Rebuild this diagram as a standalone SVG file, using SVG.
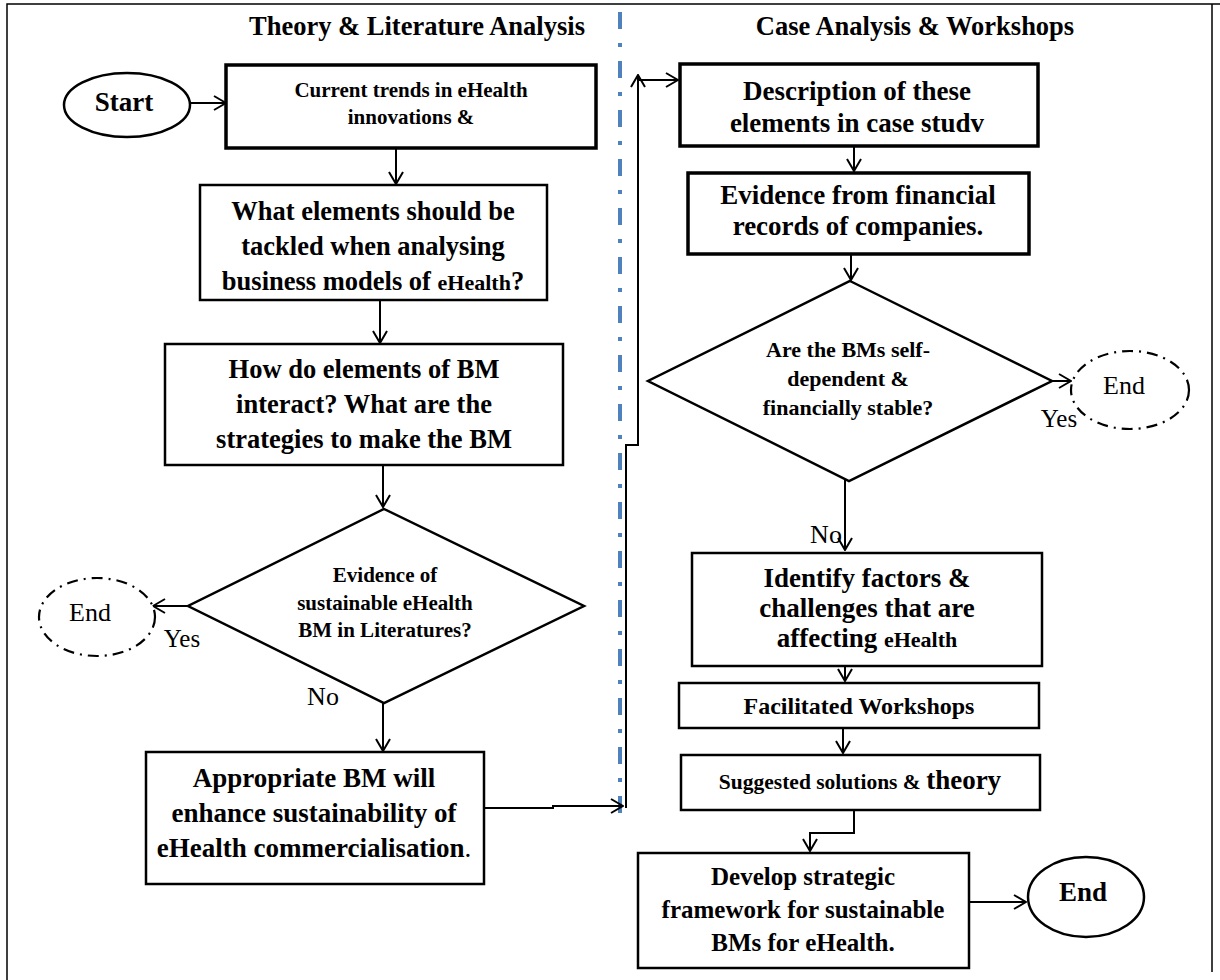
<svg xmlns="http://www.w3.org/2000/svg" width="1220" height="980" viewBox="0 0 1220 980">
<defs>
<marker id="arr" markerUnits="userSpaceOnUse" viewBox="0 0 14 16" markerWidth="14" markerHeight="16" refX="13" refY="8" orient="auto">
<path d="M1,1 L13,8 L1,15" fill="none" stroke="#000" stroke-width="2"/>
</marker>
</defs>
<style>
text{font-family:"Liberation Serif","Times New Roman",serif;fill:#000;text-anchor:middle}
.b{font-weight:bold}
.box{fill:#fff;stroke:#000;stroke-width:2.5}
.tbox{fill:#fff;stroke:#000;stroke-width:3.5}
.con{fill:none;stroke:#000;stroke-width:2}
.arr{marker-end:url(#arr)}
.dd{fill:#fff;stroke:#000;stroke-width:2.2;stroke-dasharray:11 6 2 6}
.frame{fill:none;stroke:#000;stroke-width:1.5}
</style>
<rect width="1220" height="980" fill="#fff"/>
<g id="frame">
<path class="frame" d="M7,980 V4 H1220 M1212,4 V972"/>
</g>
<g id="divider">
<line x1="620" y1="12" x2="620" y2="820" stroke="#4F81BD" stroke-width="4" stroke-dasharray="17 14 4 14"/>
</g>
<g id="titles">
<text class="b" x="417" y="35" font-size="26.5">Theory &amp; Literature Analysis</text>
<text class="b" x="915" y="35" font-size="26.5">Case Analysis &amp; Workshops</text>
</g>
<g id="connectors">
<line class="con arr" x1="190" y1="103" x2="226" y2="103"/>
<line class="con arr" x1="396" y1="148" x2="396" y2="184"/>
<line class="con arr" x1="380" y1="301" x2="380" y2="343"/>
<line class="con arr" x1="383" y1="465" x2="383" y2="507"/>
<line class="con arr" x1="188" y1="606" x2="153" y2="606"/>
<line class="con arr" x1="383" y1="703" x2="383" y2="751"/>
<path class="con arr" d="M484,808 H553 V806 H623"/>
<path class="con arr" d="M626,808 V445 H638 V75"/>
<line class="con arr" x1="638" y1="80" x2="678" y2="80"/>
<line class="con arr" x1="854" y1="146" x2="854" y2="171"/>
<line class="con arr" x1="851" y1="254" x2="851" y2="280"/>
<line class="con arr" x1="1045" y1="381" x2="1071" y2="381"/>
<line class="con arr" x1="845" y1="478" x2="845" y2="550"/>
<line class="con arr" x1="845" y1="656" x2="845" y2="681"/>
<line class="con arr" x1="843" y1="728" x2="843" y2="753"/>
<path class="con arr" d="M854,810 V833 H810 V851"/>
<line class="con arr" x1="969" y1="902" x2="1026" y2="902"/>
</g>
<g id="start">
<ellipse class="box" cx="127" cy="105" rx="63" ry="32"/>
<text class="b" x="124" y="111" font-size="27">Start</text>
</g>
<g id="n1">
<rect class="tbox" x="226" y="65" width="370" height="83"/>
<text class="b" x="411" y="97" font-size="21">Current trends in eHealth</text>
<text class="b" x="411" y="124" font-size="21">innovations &amp;</text>
</g>
<g id="n2">
<rect class="box" x="200" y="185" width="347" height="115"/>
<text class="b" x="373" y="220" font-size="26.5">What elements should be</text>
<text class="b" x="373" y="255" font-size="26.5">tackled when analysing</text>
<text class="b" x="373" y="290" font-size="26.5">business models of <tspan font-size="22">eHealth</tspan>?</text>
</g>
<g id="n3">
<rect class="box" x="165" y="344" width="398" height="121"/>
<text class="b" x="364" y="378" font-size="26.5">How do elements of BM</text>
<text class="b" x="364" y="413" font-size="26.5">interact? What are the</text>
<text class="b" x="364" y="448" font-size="26.5">strategies to make the BM</text>
</g>
<g id="d1">
<polygon class="box" points="384,509 584,606 384,703 188,606"/>
<text class="b" x="385" y="582" font-size="21">Evidence of</text>
<text class="b" x="385" y="610" font-size="21">sustainable eHealth</text>
<text class="b" x="385" y="637" font-size="21">BM in Literatures?</text>
</g>
<g id="end1">
<ellipse class="dd" cx="97" cy="617" rx="58" ry="39"/>
<text x="90" y="621" font-size="26">End</text>
</g>
<g id="labels1">
<text x="182" y="647" font-size="25">Yes</text>
<text x="323" y="705" font-size="26">No</text>
</g>
<g id="n4">
<rect class="box" x="146" y="752" width="338" height="132"/>
<text class="b" x="314" y="787" font-size="27">Appropriate BM will</text>
<text class="b" x="314" y="822" font-size="27">enhance sustainability of</text>
<text class="b" x="314" y="857" font-size="27">eHealth commercialisation<tspan font-weight="normal">.</tspan></text>
</g>
<g id="n5">
<rect class="tbox" x="680" y="64" width="358" height="82"/>
<text class="b" x="857" y="100" font-size="27">Description of these</text>
<text class="b" x="857" y="132" font-size="27">elements in case studv</text>
</g>
<g id="n6">
<rect class="tbox" x="688" y="173" width="341" height="81"/>
<text class="b" x="858" y="204" font-size="27">Evidence from financial</text>
<text class="b" x="858" y="235" font-size="27">records of companies.</text>
</g>
<g id="d2">
<polygon class="box" points="850,281 1052,381 849,481 648,381"/>
<text class="b" x="848" y="357" font-size="22">Are the BMs self-</text>
<text class="b" x="848" y="386" font-size="22">dependent &amp;</text>
<text class="b" x="848" y="415" font-size="22">financially stable?</text>
</g>
<g id="end2">
<ellipse class="dd" cx="1130" cy="390" rx="59" ry="39"/>
<text x="1124" y="394" font-size="26">End</text>
</g>
<g id="labels2">
<text x="1059" y="427" font-size="25">Yes</text>
<text x="826" y="543" font-size="26">No</text>
</g>
<g id="n7">
<rect class="box" x="692" y="553" width="350" height="113"/>
<text class="b" x="867" y="587" font-size="27">Identify factors &amp;</text>
<text class="b" x="867" y="617" font-size="27">challenges that are</text>
<text class="b" x="867" y="647" font-size="27">affecting <tspan font-size="22">eHealth</tspan></text>
</g>
<g id="n8">
<rect class="box" x="679" y="683" width="360" height="45"/>
<text class="b" x="859" y="714" font-size="24">Facilitated Workshops</text>
</g>
<g id="n9">
<rect class="box" x="681" y="755" width="359" height="55"/>
<text class="b" x="860" y="789" font-size="21.5">Suggested solutions &amp; <tspan font-size="27">theory</tspan></text>
</g>
<g id="n10">
<rect class="box" x="638" y="853" width="331" height="115"/>
<text class="b" x="803" y="885" font-size="25">Develop strategic</text>
<text class="b" x="803" y="918" font-size="25">framework for sustainable</text>
<text class="b" x="803" y="951" font-size="25">BMs for eHealth.</text>
</g>
<g id="end3">
<ellipse class="box" cx="1086" cy="897" rx="58" ry="40"/>
<text class="b" x="1083" y="901" font-size="27">End</text>
</g>
</svg>
